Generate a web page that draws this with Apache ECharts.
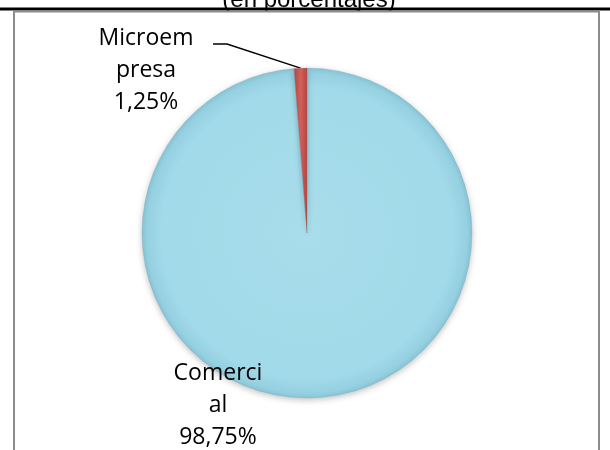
<!DOCTYPE html>
<html>
<head>
<meta charset="utf-8">
<script src="https://cdn.jsdelivr.net/npm/echarts@6/dist/echarts.min.js"></script>
<style>
html,body{margin:0;padding:0;background:#fff;}
#c{width:610px;height:450px;}
</style>
</head>
<body>
<div id="c"></div>
<script>
// ---- data ----
var categories = ['Comercial', 'Microempresa'];
var values = [98.75, 1.25];
var titleText = '(en porcentajes)';

// ---- styles / layout (not data) ----
var sliceColors = [
  {type:'radial', x:0.5, y:0.5, r:0.5, colorStops:[{offset:0,color:'#a8ddeb'},{offset:0.88,color:'#a2dae9'},{offset:0.97,color:'#95d0e1'},{offset:1,color:'#86c3d5'}]},
  {type:'linear', x:0, y:0, x2:1, y2:0, colorStops:[{offset:0,color:'#b8443f'},{offset:0.5,color:'#d0615c'},{offset:1,color:'#b8443f'}]}
];
var labelPos = [
  {x:218, y:405},
  {x:146, y:70}
];
var leaderBend = [null, [[227, 44], [213, 44]]];

function wrapName(n){
  var out = [];
  for (var i = 0; i < n.length; i += 7) out.push(n.slice(i, i + 7));
  return out.join('\n');
}

var data = categories.map(function(c, i){
  return {
    name: c,
    value: values[i],
    itemStyle: {color: sliceColors[i]},
    labelLine: {show: !!leaderBend[i]}
  };
});

var chart = echarts.init(document.getElementById('c'), null, {renderer:'canvas'});
chart.setOption({
  animation: false,
  graphic: [
    {type:'text', z:1, style:{x:309, y:0, text:titleText, textAlign:'center', textVerticalAlign:'middle', font:'24px "Liberation Sans", Arial, sans-serif', fill:'#000'}},
    {type:'line', z:2, shape:{x1:0, y1:9, x2:610, y2:9}, style:{stroke:'#000', lineWidth:3}},
    {type:'rect', z:2, shape:{x:14, y:11.5, width:585, height:460}, style:{fill:'none', stroke:'#8c8c8c', lineWidth:2}}
  ],
  series: [{
    type: 'pie',
    center: [307, 233],
    radius: 165,
    startAngle: 90,
    clockwise: true,
    z: 3,
    itemStyle: {borderColor:'rgba(90,140,155,0.3)', borderWidth:0.6, shadowBlur:6, shadowColor:'rgba(0,0,0,0.25)', shadowOffsetY:2},
    emphasis: {disabled:true},
    label: {
      show: true,
      position: 'outside',
      color: '#000',
      fontFamily: '"Open Sans", sans-serif',
      fontSize: 23,
      lineHeight: 32,
      align: 'center',
      formatter: function(p){
        return wrapName(p.name) + '\n' + p.value.toFixed(2).replace('.', ',') + '%';
      }
    },
    labelLine: {lineStyle:{color:'#000', width:1.5}, length:10, length2:15},
    labelLayout: function(p){
      var lp = labelPos[p.dataIndex];
      var res = {x: lp.x, y: lp.y, align:'center', verticalAlign:'middle'};
      var bend = leaderBend[p.dataIndex];
      if (bend && p.labelLinePoints) {
        res.labelLinePoints = [p.labelLinePoints[0]].concat(bend);
      }
      return res;
    },
    data: data
  }]
});
</script>
</body>
</html>
